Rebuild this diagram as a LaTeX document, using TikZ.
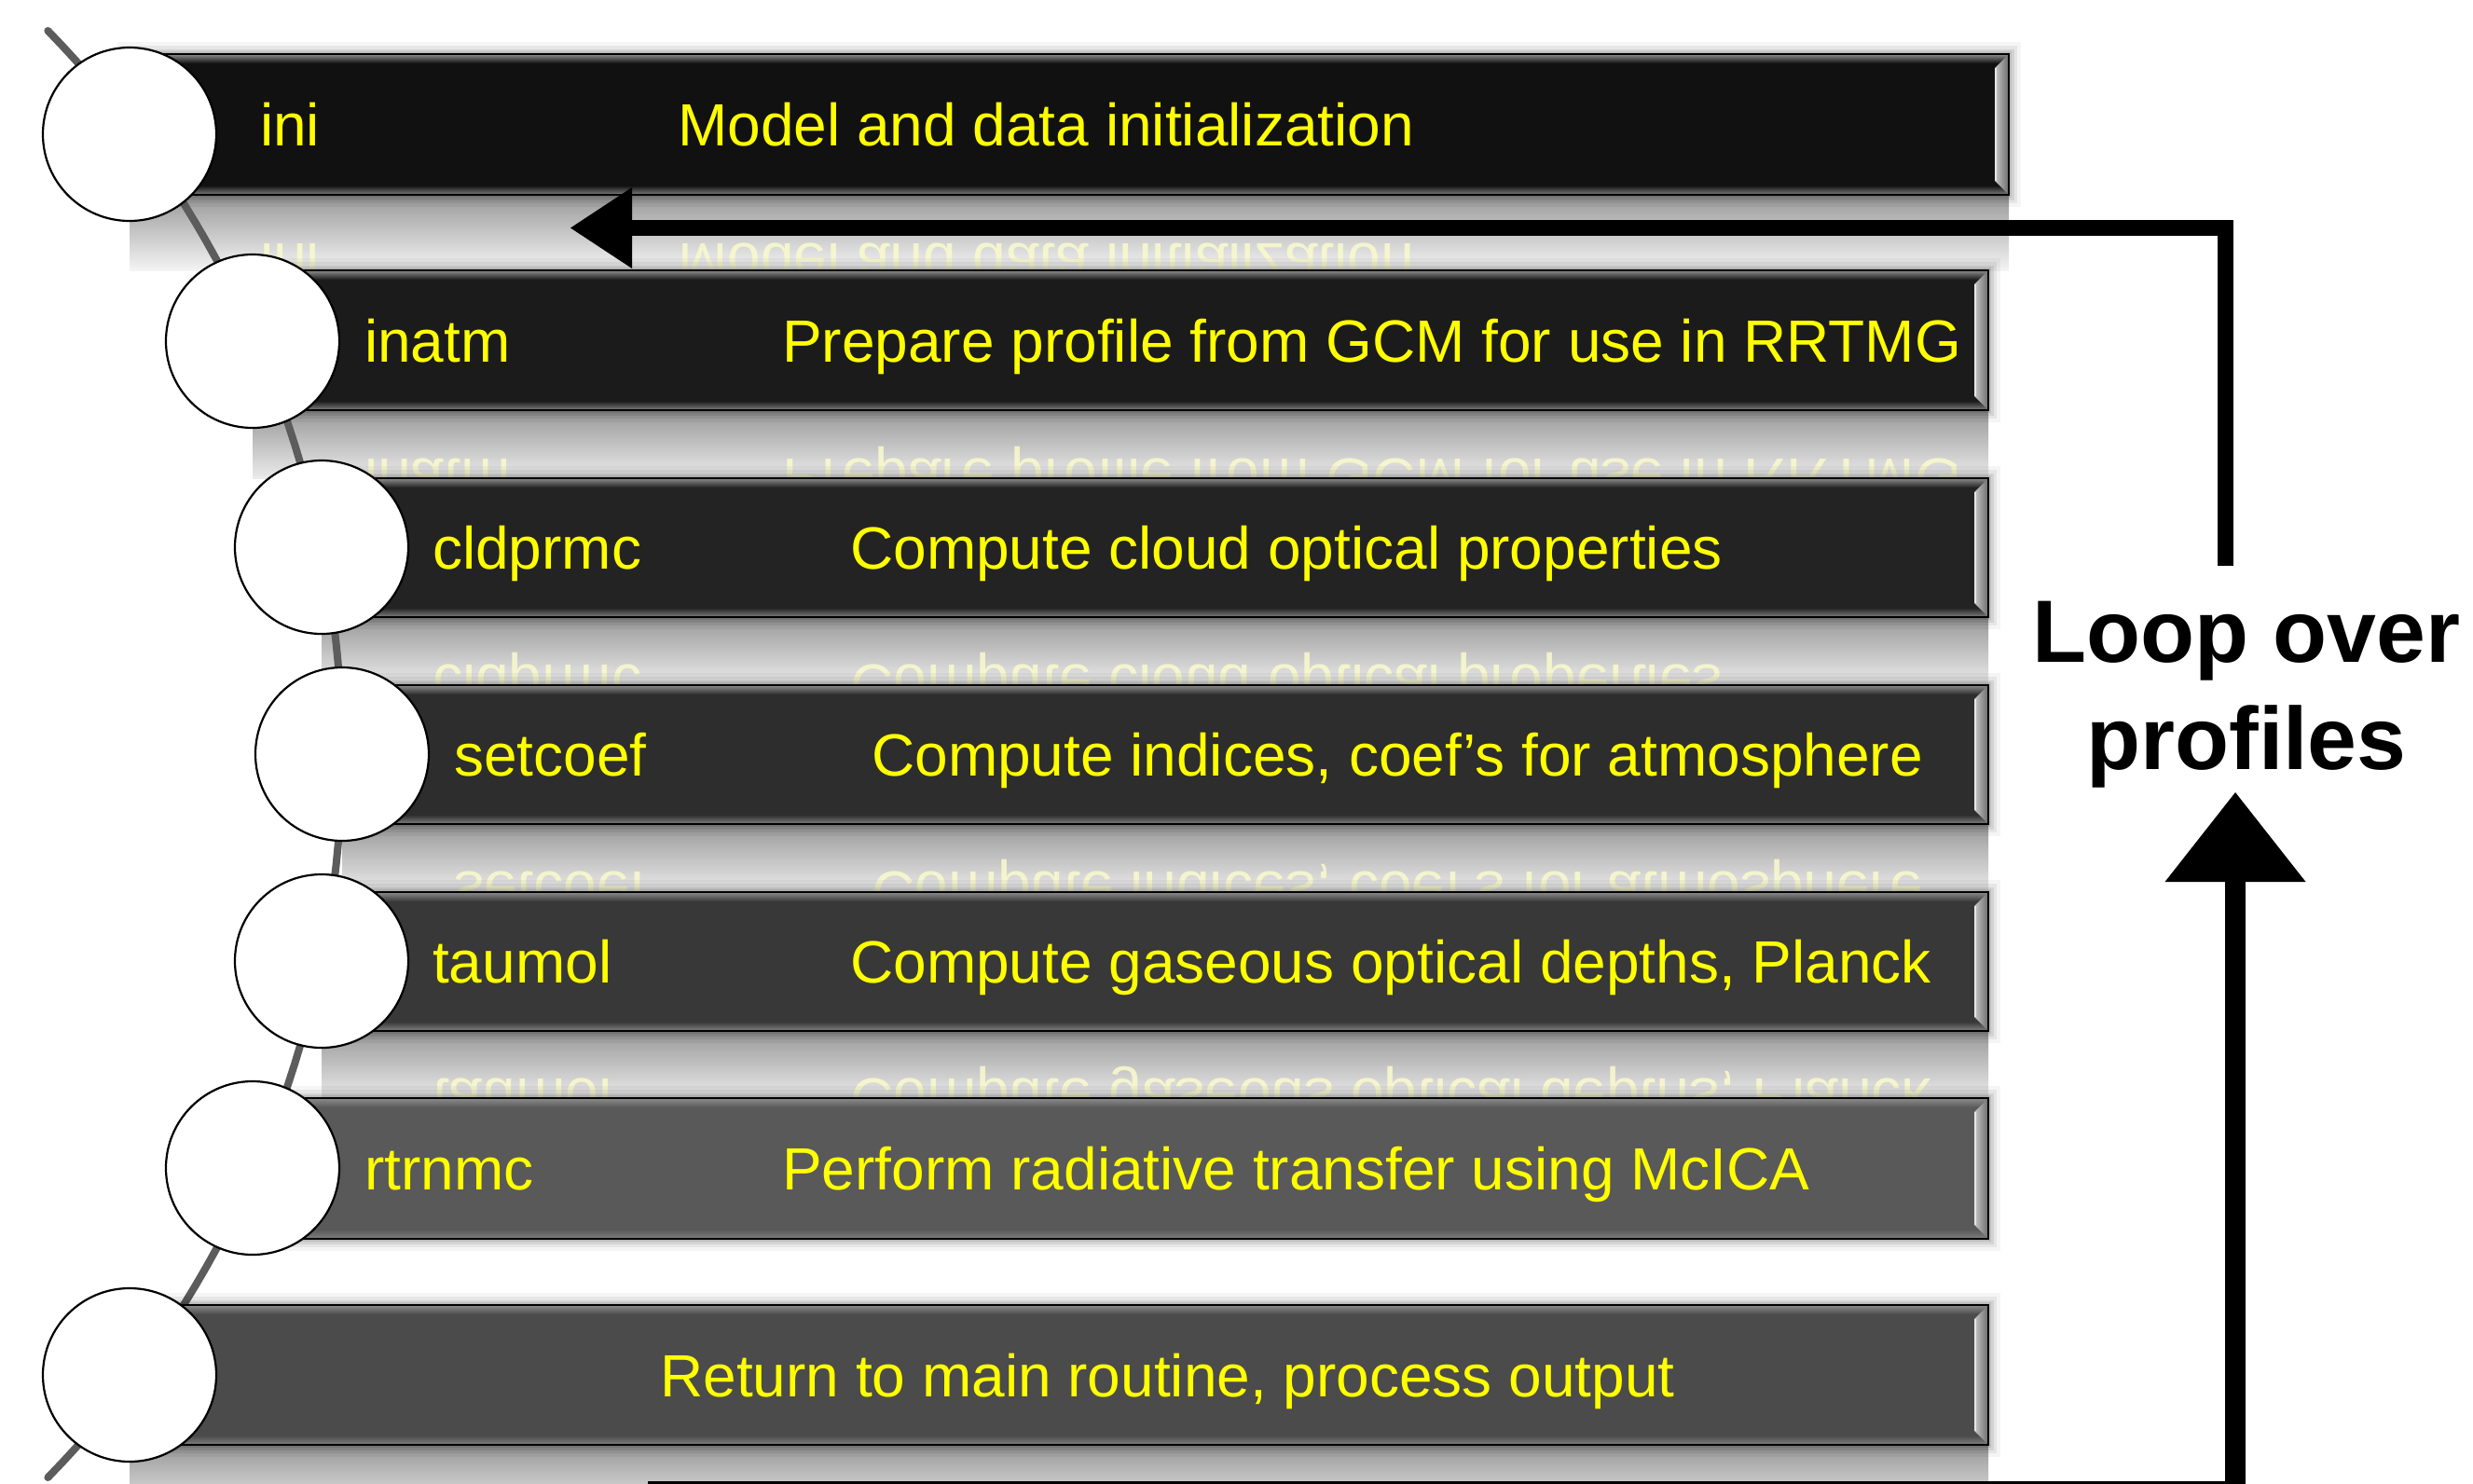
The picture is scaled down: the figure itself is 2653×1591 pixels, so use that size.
\documentclass[tikz,border=0pt]{standalone}
\usepackage{fontspec}
\setmainfont{Liberation Sans}
\usetikzlibrary{arrows.meta}
\definecolor{barA}{HTML}{111111}
\definecolor{barB}{HTML}{1B1B1B}
\definecolor{barC}{HTML}{232323}
\definecolor{barD}{HTML}{2D2D2D}
\definecolor{barE}{HTML}{383838}
\definecolor{barF}{HTML}{595959}
\definecolor{barG}{HTML}{4B4B4B}
\definecolor{spine}{HTML}{5C5C5C}
\definecolor{txtyellow}{HTML}{FFFF00}
\definecolor{refyellow}{HTML}{FAFACD}
\pgfdeclareradialshading{ballshade}{\pgfpoint{0bp}{0bp}}{color(0bp)=(white); color(39bp)=(white); color(44bp)=(black!5); color(48bp)=(black!20); color(50bp)=(black!45)}
\tikzset{
  stagebar/.style={rectangle, inner sep=0pt, outer sep=0pt, draw=none},
  stagecircle/.style={circle, shade, shading=ballshade, draw=black, line width=2.2pt, minimum size=186pt, inner sep=0pt},
  stagetext/.style={anchor=base west, inner sep=0pt, text=txtyellow, font=\fontsize{64}{77}\selectfont},
  mirrortext/.style={anchor=base west, inner sep=0pt, text=refyellow, text opacity=0.85, font=\fontsize{64}{77}\selectfont},
  looptext/.style={anchor=north, align=center, inner sep=0pt, text=black, font=\fontsize{95}{115}\selectfont\bfseries},
  loopline/.style={draw=black, line join=miter},
  spineline/.style={draw=spine, line width=8pt, line cap=round},
}
% flag: 1 = reflection with mirrored text, 2 = reflection only, 0 = none
\def\stagelist{%
1/139/144/58/209/2155/barA/279/ini/{Model and data initialization}/290/1,%
2/271/366/290/440/2133/barB/391/inatm/{Prepare profile from GCM for use in RRTMG}/513/1,%
3/345/587/513/662/2133/barC/464/cldprmc/{Compute cloud optical properties}/735/1,%
4/367/809/735/884/2133/barD/487/setcoef/{Compute indices, coef’s for atmosphere}/957/1,%
5/345/1031/957/1106/2133/barE/464/taumol/{Compute gaseous optical depths, Planck}/1178/1,%
6/271/1253/1178/1329/2133/barF/391/rtrnmc/{Perform radiative transfer using McICA}/1400/0,%
7/139/1475/1400/1550/2133/barG/260/{}/{Return to main routine, process output}/1591/2%
}
\begin{document}
\begin{tikzpicture}[x=1pt,y=-1pt]
\useasboundingbox (0,0) rectangle (2653,1591);
\clip (0,0) rectangle (2653,1591);
\fill[white] (0,0) rectangle (2653,1591);

% reflections
\foreach \k/\cx/\cy/\tp/\bt/\rx/\col/\sx/\nm/\desc/\nt/\refl in \stagelist {
  \ifnum\refl>0
  \begin{scope}
    \clip (\cx,\bt) rectangle (\rx,\nt);
    \shade[top color=black!40, bottom color=black!3] (\cx,\bt) rectangle (\rx,{\bt+84});
    \ifnum\refl=1
    \begin{scope}[shift={(\sx,{1.5*\bt-0.5*\tp-23})}, yscale=-1]
      \node[mirrortext, transform shape] (rs\k) at (0,0) {\nm};
    \end{scope}
    \begin{scope}[shift={({\sx+448},{1.5*\bt-0.5*\tp-23})}, yscale=-1]
      \node[mirrortext, transform shape] (rd\k) at (0,0) {\desc};
    \end{scope}
    \fi
  \end{scope}
  \fi
}

% spine
\draw[spineline] plot[domain=-44.26:44.26, samples=80] ({-745+1112*cos(\x)}, {809+1112*sin(\x)});

% bars
\foreach \k/\cx/\cy/\tp/\bt/\rx/\col/\sx/\nm/\desc/\nt/\refl in \stagelist {
  \foreach \w/\o in {26/0.04,18/0.06,11/0.08,6/0.10} {
    \draw[black, opacity=\o, line width=\w] (\cx,\tp) rectangle (\rx,\bt);
  }
  \node[stagebar, fill=\col, minimum width={\rx-\cx}, minimum height={\bt-\tp}] (b\k) at ({(\cx+\rx)/2},{(\tp+\bt)/2}) {};
  \shade[top color=black!45, bottom color=\col] (\cx,\tp) rectangle (\rx,{\tp+10});
  \shade[top color=\col, bottom color=black!50] (\cx,{\bt-10}) rectangle (\rx,\bt);
  \shade[left color=black!22, right color=black!58] (\rx,\tp) -- ({\rx-15},{\tp+15}) -- ({\rx-15},{\bt-15}) -- (\rx,\bt) -- cycle;
  \draw[black!10, line width=2.5] ({\rx-14},{\tp+15}) -- ({\rx-14},{\bt-15});
  \draw[black, line width=2.5] (b\k.north west) rectangle (b\k.south east);
  \node[stagetext] (s\k) at (\sx,{(\tp+\bt)/2+23}) {\nm};
  \node[stagetext] (d\k) at ({\sx+448},{(\tp+\bt)/2+23}) {\desc};
}

% circles
\foreach \k/\cx/\cy/\tp/\bt/\rx/\col/\sx/\nm/\desc/\nt/\refl in \stagelist {
  \node[stagecircle] (c\k) at (\cx,\cy) {};
}

% loop label and arrows
\node[looptext] (loop) at (2410,645) {Loop over\\profiles};
\coordinate (loopTop) at (2387,607);
\coordinate (upTip) at (612,244.5);
\coordinate (loopBot) at (695,1600);
\coordinate (lowTip) at (2398,850);
\draw[loopline, line width=17, -{Triangle[length=66pt,width=87pt,line width=0pt]}] (loopTop) |- (upTip);
\draw[loopline, line width=22, -{Triangle[length=96pt,width=151pt,line width=0pt]}] (loopBot) -| (lowTip);
\end{tikzpicture}
\end{document}
